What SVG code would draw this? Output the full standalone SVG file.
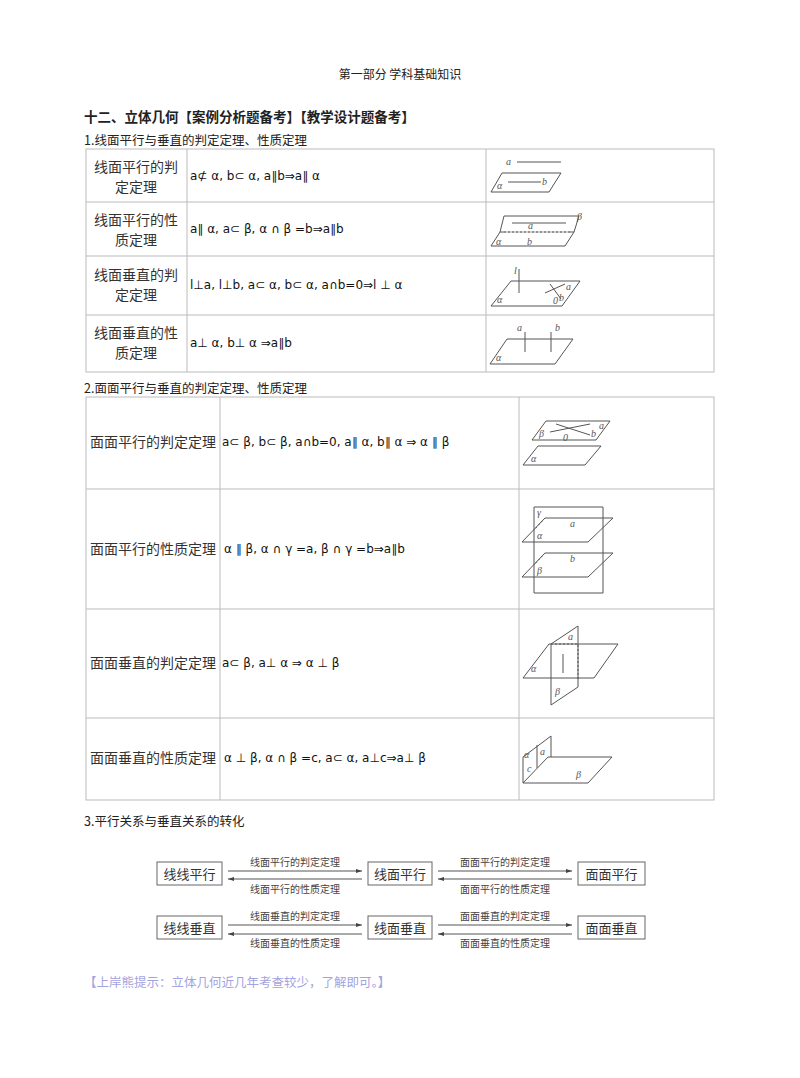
<svg xmlns="http://www.w3.org/2000/svg" width="800" height="1078" viewBox="0 0 800 1078">
<style>
.s{font-family:"Noto Sans CJK SC",serif;fill:#222}
.m{font-family:"DejaVu Sans","Noto Sans CJK SC",sans-serif;font-size:12px;fill:#111}
.c{font-family:"Noto Sans CJK SC",serif;font-size:14px;fill:#333}
.g{fill:none;stroke:#555;stroke-width:1}
.i{font-family:"Liberation Serif",serif;font-style:italic;font-size:10px;fill:#555}
.t{fill:none;stroke:#bbb;stroke-width:1}
.b{fill:#fff;stroke:#666;stroke-width:1}
.bl{font-family:"Noto Sans CJK SC",serif;font-size:13px;fill:#333}
.al{font-family:"Noto Sans CJK SC",serif;font-size:10px;fill:#444}
.ar{stroke:#555;stroke-width:1;marker-end:url(#ah)}
</style>
<defs><marker id="ah" markerWidth="6" markerHeight="6" refX="6" refY="3" orient="auto" markerUnits="userSpaceOnUse"><path d="M0,1 L6,3 L0,5z" fill="#444"/></marker></defs>
<rect width="800" height="1078" fill="#fff"/>
<text class="s" x="400" y="79" font-size="12" text-anchor="middle">第一部分  学科基础知识</text>
<text class="s" x="84" y="122" font-size="13.5" font-weight="bold">十二、立体几何【案例分析题备考】【教学设计题备考】</text>
<text class="s" x="84" y="145" font-size="12.5">1.线面平行与垂直的判定定理、性质定理</text>
<g id="table1">
<rect class="t" x="86" y="149" width="628" height="223"/>
<path class="t" d="M86,202H714M86,256H714M86,315H714M187,149V372M486,149V372"/>
<text class="c" x="136" y="172" text-anchor="middle">线面平行的判</text><text class="c" x="136" y="192" text-anchor="middle">定定理</text>
<text class="m" x="190" y="180">a⊄ α, b⊂ α, a∥b⇒a∥ α</text>
<text class="c" x="136" y="225" text-anchor="middle">线面平行的性</text><text class="c" x="136" y="245" text-anchor="middle">质定理</text>
<text class="m" x="190" y="233">a∥ α, a⊂ β, α ∩ β =b⇒a∥b</text>
<text class="c" x="136" y="280" text-anchor="middle">线面垂直的判</text><text class="c" x="136" y="300" text-anchor="middle">定定理</text>
<text class="m" x="190" y="289">l⊥a, l⊥b, a⊂ α, b⊂ α, a∩b=0⇒l ⊥ α</text>
<text class="c" x="136" y="338" text-anchor="middle">线面垂直的性</text><text class="c" x="136" y="358" text-anchor="middle">质定理</text>
<text class="m" x="190" y="347">a⊥ α, b⊥ α ⇒a∥b</text>
</g>
<g id="fig1">
<path class="g" d="M491,192H549L561,173H502Z M517,162H561 M508,182H541"/>
<text class="i" x="506" y="165">a</text><text class="i" x="497" y="189">α</text><text class="i" x="542" y="185">b</text>
<path class="g" d="M491,246H565L574,232H500Z M500,232L504,216H579L574,232 M512,223H566"/>
<path d="M504,232H570" stroke="#fff" stroke-width="1"/><path d="M504,232H570" stroke="#555" stroke-dasharray="2,2"/>
<text class="i" x="577" y="220" font-size="12">β</text><text class="i" x="528" y="229">a</text><text class="i" x="496" y="245" font-size="12">α</text><text class="i" x="527" y="245">b</text>
<path class="g" d="M491,306H562L580,281H511Z M519,269V293 M545,293L565,284 M550,284L561,299"/>
<text class="i" x="514" y="274">l</text><text class="i" x="497" y="303" font-size="12">α</text><text class="i" x="566" y="290">a</text><text class="i" x="559" y="301">b</text><text class="i" x="553" y="304">0</text>
<path class="g" d="M490,364H555L573,339H507Z M525,332V352 M551,332V352"/>
<text class="i" x="517" y="331">a</text><text class="i" x="555" y="331">b</text><text class="i" x="496" y="361" font-size="12">α</text>
</g>
<text class="s" x="84" y="393" font-size="12.5">2.面面平行与垂直的判定定理、性质定理</text>
<g id="table2">
<rect class="t" x="86" y="397" width="628" height="403"/>
<path class="t" d="M86,489H714M86,609H714M86,718H714M220,397V800M519,397V800"/>
<text class="c" x="90" y="447">面面平行的判定定理</text>
<text class="m" x="222" y="446">a⊂ β, b⊂ β, a∩b=0, a∥ α, b∥ α ⇒ α ∥ β</text>
<text class="c" x="90" y="554">面面平行的性质定理</text>
<text class="m" x="224" y="553">α ∥ β, α ∩ γ =a, β ∩ γ =b⇒a∥b</text>
<text class="c" x="90" y="668">面面垂直的判定定理</text>
<text class="m" x="222" y="667">a⊂ β, a⊥ α ⇒ α ⊥ β</text>
<text class="c" x="90" y="763">面面垂直的性质定理</text>
<text class="m" x="224" y="762">α ⊥ β, α ∩ β =c, a⊂ α, a⊥c⇒a⊥ β</text>
</g>
<g id="fig2">
<path class="g" d="M532,440H596L610,421H546Z M550,432L590,424 M556,424L590,435 M523,465H585L601,446H538Z"/>
<text class="i" x="539" y="437" font-size="12">β</text><text class="i" x="599" y="429">a</text><text class="i" x="591" y="437">b</text><text class="i" x="563" y="441">0</text><text class="i" x="531" y="462">α</text>
<path class="g" d="M534,507H603V593H534Z M522,542H588L613,518H545Z M522,577H588L613,553H545Z"/>
<path d="M545,518L534,530M545,553L534,565" stroke="#555" stroke-dasharray="2,2"/>
<text class="i" x="537" y="516">γ</text><text class="i" x="570" y="527">a</text><text class="i" x="537" y="539" font-size="12">α</text><text class="i" x="570" y="562">b</text><text class="i" x="537" y="574" font-size="12">β</text>
<path class="g" d="M523,678H594L618,644H549Z M551,705V644L578,626V687Z M563,654V673"/>
<path d="M551,644H578V680" fill="none" stroke="#555" stroke-dasharray="2,2"/>
<text class="i" x="568" y="640">a</text><text class="i" x="531" y="672" font-size="12">α</text><text class="i" x="555" y="695" font-size="12">β</text>
<path class="g" d="M523,783H588L612,757H548Z M523,783V757L551,736V757 M537,745V768"/>
<text class="i" x="524" y="758">α</text><text class="i" x="540" y="755">a</text><text class="i" x="527" y="772">c</text><text class="i" x="576" y="778" font-size="12">β</text>
</g>
<text class="s" x="84" y="826" font-size="12.5">3.平行关系与垂直关系的转化</text>
<g id="n1"><rect class="b" x="157" y="862" width="65" height="23"/><text class="bl" x="189.5" y="879" text-anchor="middle">线线平行</text></g>
<g id="n2"><rect class="b" x="368" y="862" width="64" height="23"/><text class="bl" x="400" y="879" text-anchor="middle">线面平行</text></g>
<g id="n3"><rect class="b" x="578" y="862" width="67" height="23"/><text class="bl" x="611.5" y="879" text-anchor="middle">面面平行</text></g>
<g id="n4"><rect class="b" x="157" y="916" width="65" height="23"/><text class="bl" x="189.5" y="933" text-anchor="middle">线线垂直</text></g>
<g id="n5"><rect class="b" x="368" y="916" width="64" height="23"/><text class="bl" x="400" y="933" text-anchor="middle">线面垂直</text></g>
<g id="n6"><rect class="b" x="578" y="916" width="67" height="23"/><text class="bl" x="611.5" y="933" text-anchor="middle">面面垂直</text></g>
<g id="connectors">
<path class="ar" d="M228,871H362"/><path class="ar" d="M438,871H572"/>
<path class="ar" d="M228,925H362"/><path class="ar" d="M438,925H572"/>
<path class="ar" d="M362,879H228"/><path class="ar" d="M572,879H438"/>
<path class="ar" d="M362,934H228"/><path class="ar" d="M572,934H438"/>
<text class="al" x="295" y="866" text-anchor="middle">线面平行的判定定理</text>
<text class="al" x="295" y="893" text-anchor="middle">线面平行的性质定理</text>
<text class="al" x="505" y="866" text-anchor="middle">面面平行的判定定理</text>
<text class="al" x="505" y="893" text-anchor="middle">面面平行的性质定理</text>
<text class="al" x="295" y="920" text-anchor="middle">线面垂直的判定定理</text>
<text class="al" x="295" y="947" text-anchor="middle">线面垂直的性质定理</text>
<text class="al" x="505" y="920" text-anchor="middle">面面垂直的判定定理</text>
<text class="al" x="505" y="947" text-anchor="middle">面面垂直的性质定理</text>
</g>
<text class="s" x="84" y="987" font-size="12.5" style="fill:#a3a3e0">【上岸熊提示：立体几何近几年考查较少，了解即可。】</text>
</svg>
